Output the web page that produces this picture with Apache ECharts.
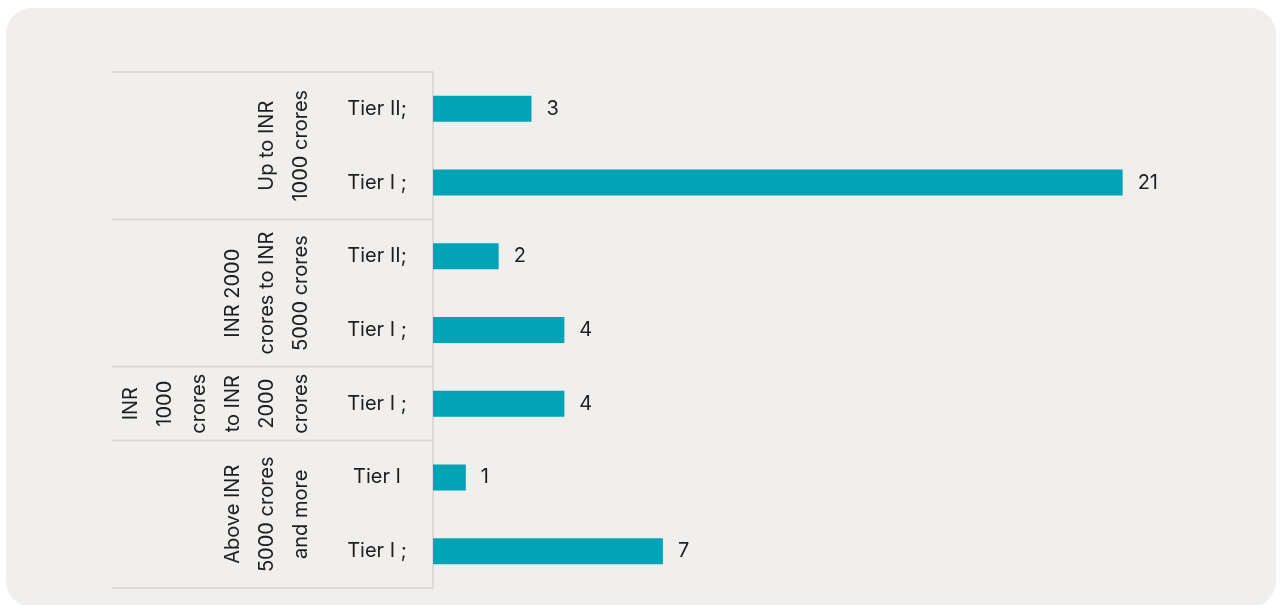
<!DOCTYPE html>
<html>
<head>
<meta charset="UTF-8">
<title>Tier chart</title>
<script src="https://cdn.jsdelivr.net/npm/echarts@6/dist/echarts.min.js"></script>
<style>
  html, body { margin: 0; padding: 0; background: #ffffff; overflow: hidden; }
  #panel { position: absolute; left: 6px; top: 8px; width: 1270px; height: 599px; background: #f0efed; border-radius: 26px; }
  #main { position: absolute; left: 0; top: 0; width: 1281px; height: 605px; }
</style>
</head>
<body>
<div id="panel"></div>
<div id="main"></div>
<script type="text/javascript">
// rows from top to bottom
var categories = ['Tier II;', 'Tier I ;', 'Tier II;', 'Tier I ;', 'Tier I ;', 'Tier I', 'Tier I ;'];
var values = [3, 21, 2, 4, 4, 1, 7];
// group labels on the left, and how many rows each one covers
var groups = ['Up to INR\n1000 crores', 'INR 2000\ncrores to INR\n5000 crores', 'INR\n1000\ncrores\nto INR\n2000\ncrores', 'Above INR\n5000 crores\nand more'];
var groupSizes = [2, 2, 1, 2];

var font = 'Inter, "Noto Sans", sans-serif';
var textColor = '#1e1e1e';
var lineColor = '#dcdbd9';

var myChart = echarts.init(document.getElementById('main'));

var option = {
    animation: false,
    grid: { left: 433, right: 27, top: 72, bottom: 17 },
    xAxis: {
        type: 'value',
        min: 0,
        max: 25,
        show: false
    },
    yAxis: {
        type: 'category',
        inverse: true,
        data: categories,
        axisLine: { show: true, lineStyle: { color: lineColor, width: 2 } },
        axisTick: { show: false },
        axisLabel: {
            align: 'center',
            margin: 56,
            fontFamily: font,
            fontSize: 20,
            color: textColor
        }
    },
    series: [{
        type: 'bar',
        data: values,
        barWidth: 26,
        itemStyle: { color: '#00a4b4' },
        label: {
            show: true,
            position: 'right',
            distance: 15,
            fontFamily: font,
            fontSize: 20,
            color: textColor
        }
    }]
};
myChart.setOption(option);

// group labels and separators, placed from the category axis
var y0 = myChart.convertToPixel({ yAxisIndex: 0 }, 0);
var y1 = myChart.convertToPixel({ yAxisIndex: 0 }, 1);
var band = y1 - y0;
var graphics = [];
var start = 0;
graphics.push({ type: 'line', shape: { x1: 112, y1: y0 - band / 2, x2: 433, y2: y0 - band / 2 }, style: { stroke: lineColor, lineWidth: 2 } });
for (var i = 0; i < groups.length; i++) {
    var first = myChart.convertToPixel({ yAxisIndex: 0 }, start);
    var last = myChart.convertToPixel({ yAxisIndex: 0 }, start + groupSizes[i] - 1);
    graphics.push({
        type: 'text',
        x: 318,
        y: (first + last) / 2,
        rotation: Math.PI / 2,
        style: {
            text: groups[i],
            fontFamily: font,
            fontSize: 20,
            lineHeight: 34,
            fill: textColor,
            align: 'center',
            verticalAlign: 'bottom'
        }
    });
    var edge = last + band / 2;
    graphics.push({ type: 'line', shape: { x1: 112, y1: edge, x2: 433, y2: edge }, style: { stroke: lineColor, lineWidth: 2 } });
    start += groupSizes[i];
}
myChart.setOption({ graphic: graphics });
</script>
</body>
</html>
